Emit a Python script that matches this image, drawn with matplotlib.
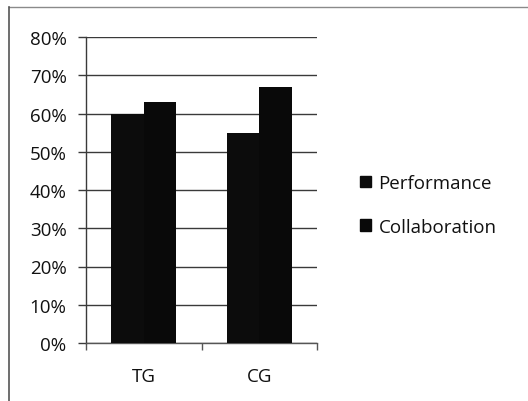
import matplotlib
matplotlib.use("Agg")
import matplotlib.pyplot as plt
from matplotlib.patches import Patch
from matplotlib.lines import Line2D
from matplotlib.ticker import PercentFormatter, FixedLocator
import numpy as np

categories = ["TG", "CG"]
series_names = ["Performance", "Collaboration"]
performance = [60, 55]
collaboration = [63, 67]
y_ticks = [0, 10, 20, 30, 40, 50, 60, 70, 80]

plt.rcParams["font.family"] = ["Open Sans", "DejaVu Sans"]

W, H = 528, 402
fig = plt.figure(figsize=(W / 100, H / 100), dpi=100)
fig.patch.set_facecolor("white")

ax = fig.add_axes([86 / W, 1 - 344 / H, (317 - 86) / W, (344 - 38) / H])

x = np.arange(len(categories))
bw = 0.28
bar_colors = ["#0c0c0c", "#090909"]
ax.bar(x - bw / 2, performance, bw, color=bar_colors[0], zorder=3)
ax.bar(x + bw / 2, collaboration, bw, color=bar_colors[1], zorder=3)

ax.set_xlim(-0.5, len(categories) - 0.5)
ax.set_ylim(0, 80)
ax.set_yticks(y_ticks)
ax.yaxis.set_major_formatter(PercentFormatter(decimals=0))
ax.set_xticks(x)
ax.set_xticklabels(categories)
ax.xaxis.set_minor_locator(FixedLocator(np.arange(-0.5, len(categories), 1.0)))

grid_col = "#3a3a3a"
ax.yaxis.grid(True, color=grid_col, linewidth=1.0, zorder=1)
ax.set_axisbelow(True)
for side in ["top", "right"]:
    ax.spines[side].set_visible(False)
ax.spines["left"].set_color(grid_col)
ax.spines["bottom"].set_color("#555555")
ax.spines["left"].set_linewidth(1.0)
ax.spines["bottom"].set_linewidth(1.0)

fs = 13.5
ax.tick_params(axis="y", direction="out", length=6, width=1.0, color=grid_col,
               labelsize=fs, pad=8, labelcolor="#111111")
ax.tick_params(axis="x", which="major", length=0, labelsize=fs, pad=17,
               labelcolor="#111111")
ax.tick_params(axis="x", which="minor", direction="out", length=5, width=1.0,
               color="#555555")

handles = [Patch(facecolor=c, edgecolor=c) for c in bar_colors]
fig.legend(handles, series_names, loc="center left",
           bbox_to_anchor=(343 / W, 1 - 206 / H), frameon=False,
           handlelength=0.6, handleheight=0.6, handletextpad=0.4,
           labelspacing=1.38, fontsize=fs, labelcolor="#111111")

# outer frame (top and left edges)
fig.add_artist(Line2D([9 / W, 1.0], [1 - 8 / H, 1 - 8 / H], color="#8a8a8a",
                      linewidth=1.0, transform=fig.transFigure))
fig.add_artist(Line2D([9 / W, 9 / W], [0.0, 1 - 8 / H], color="#555555",
                      linewidth=1.2, transform=fig.transFigure))

fig.savefig("out.png", dpi=100, facecolor="white")
